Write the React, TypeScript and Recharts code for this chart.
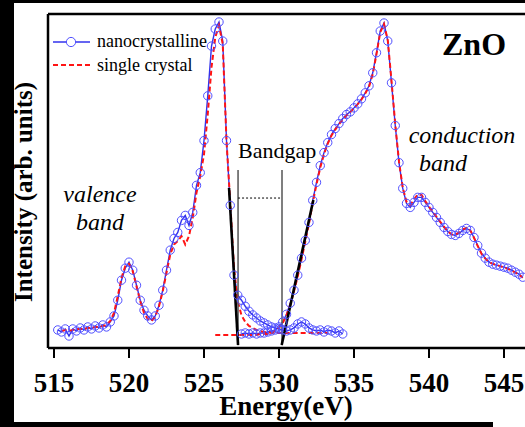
import {
  LineChart, Line, XAxis, YAxis, ReferenceLine,
} from 'recharts';

// Valence-band scan (both samples share the energy grid)
const vbEnergy = [
  515.25, 515.5, 515.75, 516.0, 516.25, 516.5, 516.75, 517.0, 517.25, 517.5, 517.75, 518.0, 518.25, 518.5, 518.75, 519.0,
  519.25, 519.5, 519.75, 520.0, 520.25, 520.5, 520.75, 521.0, 521.25, 521.5, 521.75, 522.0, 522.25, 522.5, 522.75, 523.0,
  523.25, 523.5, 523.75, 524.0, 524.25, 524.5, 524.75, 525.0, 525.25, 525.5, 525.75, 526.0, 526.25, 526.5, 526.75, 527.0,
  527.25, 527.5, 527.75, 528.0, 528.25, 528.5, 528.75, 529.0, 529.25, 529.5, 529.75, 530.0, 530.25, 530.5, 530.75, 531.0,
  531.25, 531.5, 531.75, 532.0, 532.25, 532.5, 532.75, 533.0, 533.25, 533.5, 533.75, 534.0, 534.25,
];
const nanoVB = [
  5.4, 4.8, 5.7, 3.6, 5.7, 5.1, 6.0, 5.4, 6.3, 5.7, 6.6, 6.0, 6.9, 6.3, 7.8, 9.6,
  14.3, 20.3, 23.9, 25.7, 23.3, 18.8, 14.3, 11.3, 9.6, 8.4, 9.6, 12.8, 17.3, 23.3, 29.3, 32.8,
  34.6, 38.2, 39.7, 36.7, 40.6, 48.7, 52.5, 62.1, 75.5, 90.4, 95.5, 97.6, 91.9, 62.1, 42.7, 21.8,
  15.8, 14.3, 12.5, 11.0, 9.9, 9.0, 8.1, 7.5, 6.9, 6.3, 6.0, 5.7, 5.4, 5.1, 5.4, 6.0,
  7.2, 7.8, 7.2, 6.0, 5.4, 5.1, 5.4, 4.8, 5.4, 5.1, 4.5, 5.1, 4.2,
];
const singleVB = [
  null, 5.1, 5.4, 5.1, 5.4, 5.7, 5.7, 5.7, 6.0, 6.0, 6.3, 6.3, 6.6, 6.9, 8.1, 10.5,
  15.5, 21.0, 24.5, 25.2, 23.0, 18.5, 14.0, 10.5, 8.7, 8.1, 9.3, 12.5, 17.0, 22.5, 28.0, 31.0,
  32.0, 33.5, 31.0, 33.5, 39.0, 46.5, 51.5, 58.0, 70.0, 84.0, 93.0, 96.5, 91.0, 62.0, 43.5, 24.0,
  14.0, 9.8, 7.8, 6.6, 6.0, 5.4, 5.1, 4.8, 4.8, 4.5, 4.5, 4.5, 4.5, 4.5, 4.5, 4.5,
  4.5, 4.5, 4.5, 4.5, 4.5, 4.5, 4.5, 4.5, 4.5, null, null, null, null,
];

// Conduction-band scan
const cbEnergy = [
  525.75, 526.0, 526.25, 526.5, 526.75, 527.0, 527.25, 527.5, 527.75, 528.0, 528.25, 528.5, 528.75, 529.0, 529.25, 529.5,
  529.75, 530.0, 530.25, 530.5, 530.75, 531.0, 531.25, 531.5, 531.75, 532.0, 532.25, 532.5, 532.75, 533.0, 533.25, 533.5,
  533.75, 534.0, 534.25, 534.5, 534.75, 535.0, 535.25, 535.5, 535.75, 536.0, 536.25, 536.5, 536.75, 537.0, 537.25, 537.5,
  537.75, 538.0, 538.25, 538.5, 538.75, 539.0, 539.25, 539.5, 539.75, 540.0, 540.25, 540.5, 540.75, 541.0, 541.25, 541.5,
  541.75, 542.0, 542.25, 542.5, 542.75, 543.0, 543.25, 543.5, 543.75, 544.0, 544.25, 544.5, 544.75, 545.0, 545.25, 545.5,
  545.75, 546.0, 546.25,
];
const nanoCB = [
  null, null, null, null, null, null, null, 4.2, 4.5, 4.2, 4.5, 4.2, 4.5, 4.5, 4.8, 5.1,
  5.4, 6.3, 7.8, 10.1, 13.4, 17.3, 21.8, 26.9, 32.2, 37.6, 44.2, 49.6, 54.6, 58.5, 61.5, 63.9,
  65.7, 67.2, 68.7, 69.9, 70.7, 71.9, 73.1, 74.6, 76.4, 78.5, 82.4, 88.4, 94.9, 97.3, 91.9, 79.4,
  66.6, 55.5, 47.8, 43.3, 42.1, 43.6, 45.1, 45.1, 43.6, 42.1, 40.6, 39.1, 37.6, 36.1, 34.9, 34.0,
  33.7, 34.3, 35.2, 35.8, 35.2, 33.1, 30.7, 28.4, 26.9, 25.7, 25.1, 24.8, 24.5, 24.2, 23.9, 23.3,
  22.7, 22.1, 21.2,
];
const singleCB = [
  3.9, 3.9, 3.9, 3.9, 3.9, 3.9, 3.9, 3.9, 3.9, 3.9, 3.9, 3.9, 4.2, 4.2, 4.2, 4.5,
  5.1, 6.0, 7.5, 9.8, 13.0, 17.0, 21.5, 26.5, 31.8, 37.2, 43.5, 49.0, 54.0, 58.0, 61.2, 63.6,
  65.4, 67.0, 68.4, 69.6, 70.6, 71.8, 73.0, 74.4, 76.2, 78.2, 82.0, 88.0, 94.5, 97.0, 92.2, 80.0,
  67.0, 55.8, 48.0, 43.8, 42.8, 44.5, 46.0, 45.8, 44.0, 42.3, 40.8, 39.3, 37.8, 36.3, 35.0, 34.0,
  33.9, 34.6, 35.5, 36.0, 35.3, 33.0, 30.5, 28.2, 26.8, 25.8, 25.2, 24.9, 24.5, 24.1, 23.7, 23.2,
  22.6, 22.0, 21.0,
];

const energyTicks = [515, 520, 525, 530, 535, 540, 545];

// Linear fits to the band edges, and the gap markers between them
const vbEdgeFit = [{ x: 526.67, y: 47.9 }, { x: 527.27, y: 0.9 }];
const cbEdgeFit = [{ x: 532.29, y: 44.3 }, { x: 530.18, y: 0.9 }];
const gapEdges = [527.27, 530.2];
const gapMarkerTop = 53.3;
const gapArrowLevel = 44.9;

const BLUE = '#3232ec';
const CIRCLE = '#5050ff';
const RED = '#ff1414';
const SERIF = '"Liberation Serif", "Times New Roman", serif';

const toPoints = (xs: number[], ys: (number | null)[]) => xs.map((e, i) => ({ e, v: ys[i] }));

export default function App() {
  const nanoVbData = toPoints(vbEnergy, nanoVB);
  const singleVbData = toPoints(vbEnergy, singleVB);
  const nanoCbData = toPoints(cbEnergy, nanoCB);
  const singleCbData = toPoints(cbEnergy, singleCB);

  const circleDot = { r: 4.2, stroke: CIRCLE, strokeWidth: 1, fill: 'none' };

  return (
    <div style={{
      position: 'absolute', left: 0, top: 0, width: 525, height: 427,
      overflow: 'hidden', background: '#fff',
    }}>
      <LineChart width={558} height={427} margin={{ top: 4, right: 0, bottom: 0, left: 47 }}>
        <XAxis
          xAxisId="top"
          orientation="top"
          type="number"
          dataKey="e"
          domain={[514.6, 548.6]}
          ticks={energyTicks}
          allowDataOverflow
          height={10}
          tickSize={10}
          tick={false}
          axisLine={{ stroke: '#000', strokeWidth: 2.5 }}
          tickLine={{ stroke: '#000', strokeWidth: 2 }}
        />
        <XAxis
          type="number"
          dataKey="e"
          domain={[514.6, 548.6]}
          ticks={energyTicks}
          allowDataOverflow
          height={79}
          tickSize={10}
          tickMargin={15}
          axisLine={{ stroke: '#000', strokeWidth: 2.5 }}
          tickLine={{ stroke: '#000', strokeWidth: 2 }}
          tick={{ fontFamily: SERIF, fontSize: 27, fontWeight: 'bold', fill: '#000' }}
        />
        <YAxis
          type="number"
          domain={[0, 100]}
          width={1}
          tick={false}
          tickLine={false}
          axisLine={{ stroke: '#000', strokeWidth: 2.5 }}
        />

        <Line data={nanoVbData} dataKey="v" stroke={BLUE} strokeWidth={1.4} dot={circleDot}
          activeDot={false} isAnimationActive={false} />
        <Line data={nanoCbData} dataKey="v" stroke={BLUE} strokeWidth={1.4} dot={circleDot}
          activeDot={false} isAnimationActive={false} />
        <Line data={singleVbData} dataKey="v" stroke={RED} strokeWidth={2} strokeDasharray="5 3"
          dot={false} activeDot={false} isAnimationActive={false} />
        <Line data={singleCbData} dataKey="v" stroke={RED} strokeWidth={2} strokeDasharray="5 3"
          dot={false} activeDot={false} isAnimationActive={false} />

        {gapEdges.map(x => (
          <ReferenceLine key={x} segment={[{ x, y: 0.8 }, { x, y: gapMarkerTop }]}
            stroke="#555" strokeWidth={1.5} />
        ))}
        <ReferenceLine segment={[{ x: gapEdges[0], y: gapArrowLevel }, { x: gapEdges[1], y: gapArrowLevel }]}
          stroke="#000" strokeWidth={1} strokeDasharray="2 2" />
        <ReferenceLine segment={vbEdgeFit} stroke="#000" strokeWidth={2.6} />
        <ReferenceLine segment={cbEdgeFit} stroke="#000" strokeWidth={2.6} />
      </LineChart>

      <svg width={525} height={427} style={{ position: 'absolute', left: 0, top: 0, pointerEvents: 'none' }}
        fontFamily={SERIF}>
        {/* legend */}
        <line x1={53} y1={42} x2={90} y2={42} stroke={BLUE} strokeWidth={1.4} />
        <circle cx={71} cy={42} r={4.6} stroke={CIRCLE} strokeWidth={1} fill="#fff" />
        <text x={97} y={47} fontSize={18} fill="#000">nanocrystalline</text>
        <line x1={53} y1={65} x2={90} y2={65} stroke={RED} strokeWidth={2} strokeDasharray="5 3" />
        <text x={97} y={71} fontSize={18} fill="#000">single crystal</text>

        <text x={442} y={55} fontSize={32} fontWeight="bold" fill="#000">ZnO</text>
        <text x={238} y={158} fontSize={22} fill="#000">Bandgap</text>
        <text x={100} y={202} fontSize={24} fontStyle="italic" textAnchor="middle" fill="#000">valence</text>
        <text x={100} y={230} fontSize={24} fontStyle="italic" textAnchor="middle" fill="#000">band</text>
        <text x={462} y={143} fontSize={24} fontStyle="italic" textAnchor="middle" fill="#000">conduction</text>
        <text x={443} y={171} fontSize={24} fontStyle="italic" textAnchor="middle" fill="#000">band</text>

        <text x={286} y={415} fontSize={27} fontWeight="bold" textAnchor="middle" fill="#000">Energy(eV)</text>
        <text transform="translate(32,192) rotate(-90)" fontSize={25} fontWeight="bold"
          textAnchor="middle" fill="#000">Intensity (arb. units)</text>

        {/* frame strips */}
        <rect x={0} y={0} width={14} height={427} fill="#000" />
        <rect x={0} y={0} width={525} height={3} fill="#000" />
        <rect x={14} y={422} width={479} height={5} fill="#000" />
      </svg>
    </div>
  );
}
